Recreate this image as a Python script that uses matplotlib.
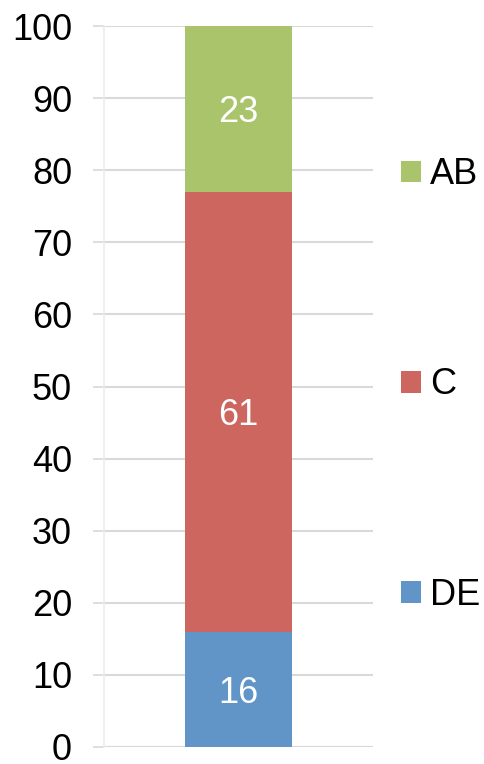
import matplotlib.pyplot as plt

# stacked shares, bottom to top
categories = ["DE", "C", "AB"]
values = [16, 61, 23]
colors = ["#6195c8", "#cc665f", "#aac46b"]
y_ticks = list(range(0, 101, 10))

plt.rcParams["font.family"] = ["Liberation Sans", "DejaVu Sans"]

fig = plt.figure(figsize=(4.84, 7.64), dpi=100)
ax = fig.add_axes([104 / 484, 17 / 764, 269 / 484, 721 / 764])

bottom = 0
handles = []
for cat, val, col in zip(categories, values, colors):
    b = ax.bar(0, val, width=0.4, bottom=bottom, color=col, label=cat, zorder=3)
    handles.append(b)
    ax.text(0, bottom + val / 2, str(val), ha="center", va="center_baseline",
            color="white", fontsize=26, zorder=4)
    bottom += val

ax.set_xlim(-0.5, 0.5)
ax.set_ylim(0, 100)
ax.set_yticks(y_ticks)
ax.set_xticks([])
ax.tick_params(axis="y", labelsize=26, length=8, width=1.2, color="#d9d9d9", pad=15)
ax.grid(axis="y", color="#d9d9d9", linewidth=1.5, zorder=0)
for side in ["top", "right", "bottom"]:
    ax.spines[side].set_visible(False)
ax.spines["left"].set_color("#ececec")
ax.spines["left"].set_linewidth(1.2)
ax.axhline(0, color="#d9d9d9", linewidth=1.5, zorder=1)

fig.legend(handles[::-1], categories[::-1], loc="center left",
           bbox_to_anchor=(401 / 484, 1 - 385 / 764), frameon=False,
           fontsize=26, handlelength=0.55, handleheight=0.55,
           handletextpad=0.25, labelspacing=4.85, borderpad=0,
           borderaxespad=0)

fig.savefig("out.png", dpi=100)
